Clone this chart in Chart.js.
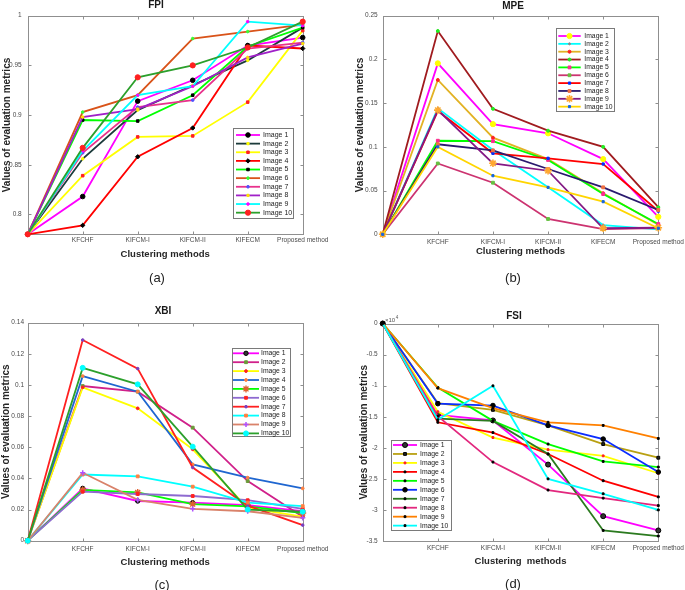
<!DOCTYPE html>
<html>
<head>
<meta charset="utf-8">
<script src="https://cdn.jsdelivr.net/npm/chart.js@4.4.1/dist/chart.umd.min.js"></script>
<style>
html,body{margin:0;padding:0;background:#fff;}
body{position:relative;width:685px;height:590px;overflow:hidden;font-family:'Liberation Sans',Arial,sans-serif;}
canvas{position:absolute;}
.lab{position:absolute;font-size:13px;color:#222;transform:translate(-50%,-50%);white-space:nowrap;}
</style>
</head>
<body>
<canvas id="cA" width="340" height="295" style="left:0px;top:0px"></canvas>
<canvas id="cB" width="350" height="295" style="left:340px;top:0px"></canvas>
<canvas id="cC" width="340" height="290" style="left:0px;top:300px"></canvas>
<canvas id="cD" width="350" height="290" style="left:340px;top:300px"></canvas>
<div class="lab" style="left:157px;top:277px">(a)</div>
<div class="lab" style="left:513px;top:277px">(b)</div>
<div class="lab" style="left:162px;top:584px">(c)</div>
<div class="lab" style="left:513px;top:583px">(d)</div>
<script>
// ---------------- data ----------------
const categories = ['', 'KFCHF', 'KIFCM-I', 'KIFCM-II', 'KIFECM', 'Proposed method'];
const imageNames = ['Image 1','Image 2','Image 3','Image 4','Image 5','Image 6','Image 7','Image 8','Image 9','Image 10'];

const fpiTicks = [0.8, 0.85, 0.9, 0.95, 1];
const mpeTicks = [0, 0.05, 0.1, 0.15, 0.2, 0.25];
const xbiTicks = [0, 0.02, 0.04, 0.06, 0.08, 0.1, 0.12, 0.14];
const fsiTicks = [0, -0.5, -1, -1.5, -2, -2.5, -3, -3.5];

// FPI
const fpiImg1  = [0.78, 0.818, 0.914, 0.935, 0.970, 0.978];
const fpiImg2  = [0.78, 0.856, 0.905, 0.930, 0.955, 0.988];
const fpiImg3  = [0.78, 0.839, 0.878, 0.879, 0.913, 0.985];
const fpiImg4  = [0.78, 0.789, 0.858, 0.887, 0.970, 0.967];
const fpiImg5  = [0.78, 0.895, 0.894, 0.920, 0.969, 0.988];
const fpiImg6  = [0.78, 0.903, 0.920, 0.977, 0.984, 0.991];
const fpiImg7  = [0.78, 0.862, 0.908, 0.915, 0.967, 0.973];
const fpiImg8  = [0.78, 0.898, 0.906, 0.929, 0.958, 0.972];
const fpiImg9  = [0.78, 0.864, 0.920, 0.929, 0.994, 0.990];
const fpiImg10 = [0.78, 0.867, 0.938, 0.950, 0.968, 0.994];

// MPE
const mpeImg1  = [0, 0.1955, 0.126, 0.1155, 0.086, 0.020];
const mpeImg2  = [0, 0.144, 0.0964, 0.0537, 0.0106, 0.0057];
const mpeImg3  = [0, 0.1765, 0.1105, 0.086, 0.047, 0.011];
const mpeImg4  = [0, 0.2325, 0.1435, 0.1185, 0.100, 0.031];
const mpeImg5  = [0, 0.107, 0.1065, 0.085, 0.046, 0.0118];
const mpeImg6  = [0, 0.081, 0.059, 0.0175, 0.006, 0.007];
const mpeImg7  = [0, 0.141, 0.0926, 0.0869, 0.0804, 0.0266];
const mpeImg8  = [0, 0.103, 0.0960, 0.0747, 0.0537, 0.0278];
const mpeImg9  = [0, 0.142, 0.0812, 0.0727, 0.0069, 0.0075];
const mpeImg10 = [0, 0.100, 0.067, 0.0537, 0.0373, 0.0069];

// XBI
const xbiImg1  = [0, 0.0336, 0.0255, 0.0244, 0.0229, 0.0190];
const xbiImg2  = [0, 0.0993, 0.0957, 0.0726, 0.0383, 0.0154];
const xbiImg3  = [0, 0.0985, 0.0850, 0.0587, 0.0210, 0.0154];
const xbiImg4  = [0, 0.1057, 0.0957, 0.0490, 0.0405, 0.0336];
const xbiImg5  = [0, 0.0326, 0.0310, 0.0235, 0.0220, 0.0178];
const xbiImg6  = [0, 0.0315, 0.0300, 0.0287, 0.0260, 0.0205];
const xbiImg7  = [0, 0.1289, 0.1105, 0.0470, 0.0225, 0.0100];
const xbiImg8  = [0, 0.0425, 0.0413, 0.0347, 0.0245, 0.0222];
const xbiImg9  = [0, 0.0436, 0.0262, 0.0205, 0.0189, 0.0147];
const xbiImg10 = [0, 0.1110, 0.1004, 0.0604, 0.0200, 0.0186];

// FSI (x 10^4)
const fsiImg1  = [0, -1.47, -1.56, -2.27, -3.10, -3.33];
const fsiImg2  = [0, -1.28, -1.39, -1.64, -1.94, -2.16];
const fsiImg3  = [0, -1.42, -1.835, -2.03, -2.13, -2.41];
const fsiImg4  = [0, -1.59, -1.755, -2.10, -2.53, -2.79];
const fsiImg5  = [0, -1.03, -1.567, -1.94, -2.22, -2.31];
const fsiImg6  = [0, -1.29, -1.32, -1.64, -1.86, -2.39];
const fsiImg7  = [0, -1.53, -1.567, -2.10, -3.33, -3.42];
const fsiImg8  = [0, -1.49, -2.23, -2.68, -2.81, -2.93];
const fsiImg9  = [0, -1.04, -1.36, -1.59, -1.64, -1.85];
const fsiImg10 = [0, -1.55, -1.003, -2.50, -2.74, -3.00];

// ---------------- styles ----------------
const fpiStyles = [
 {c:'#ff00ff', ps:'circle', r:2.3, f:'#000', b:'#000'},
 {c:'#1c3b3b', ps:'circle', r:1.3, f:'#ffff00', b:'#ffff00'},
 {c:'#ffff00', ps:'rect', r:1.8, f:'#ff2020', b:'#ff2020'},
 {c:'#ff0000', ps:'rectRot', r:2.2, f:'#000', b:'#000'},
 {c:'#00ff00', ps:'rect', r:1.8, f:'#000', b:'#000'},
 {c:'#d95319', ps:'circle', r:1.3, f:'#33ff33', b:'#33ff33'},
 {c:'#e8328c', ps:'circle', r:1.3, f:'#5050ff', b:'#5050ff'},
 {c:'#a020c8', ps:'circle', r:1.3, f:'#ffe000', b:'#ffe000'},
 {c:'#00ffff', ps:'circle', r:1.3, f:'#ff00ff', b:'#ff00ff'},
 {c:'#2ca02c', ps:'circle', r:2.6, f:'#ff2020', b:'#ff2020'}
];
const mpeStyles = [
 {c:'#ff00ff', ps:'circle', r:2.6, f:'#ffff00', b:'#ffff00'},
 {c:'#00ffff', ps:'circle', r:1, f:'#888', b:'#888'},
 {c:'#e2b224', ps:'circle', r:1.5, f:'#ff2020', b:'#ff2020'},
 {c:'#a01b1f', ps:'circle', r:1.5, f:'#22ee22', b:'#22ee22'},
 {c:'#00ff00', ps:'rect', r:2, f:'#ff2a90', b:'#ff2a90'},
 {c:'#cc3370', ps:'rect', r:2, f:'#66c040', b:'#66c040'},
 {c:'#ff0000', ps:'rect', r:1.6, f:'#0030ff', b:'#0030ff'},
 {c:'#2a1a6e', ps:'rect', r:2, f:'#f07040', b:'#f07040'},
 {c:'#841a84', ps:'star', r:3.8, f:'#ffa830', b:'#ffa830', bw:1.6},
 {c:'#ffd500', ps:'rect', r:1.5, f:'#1565e0', b:'#1565e0'}
];
const xbiStyles = [
 {c:'#ff00ff', ps:'circle', r:2.2, f:'#333', b:'#000'},
 {c:'#d0208a', ps:'rect', r:2, f:'#6b9a3a', b:'#6b9a3a'},
 {c:'#ffff00', ps:'circle', r:1.4, f:'#ff2020', b:'#ff2020'},
 {c:'#1f66d0', ps:'circle', r:1.4, f:'#ff8040', b:'#ff8040'},
 {c:'#00ff00', ps:'star', r:3.5, f:'#e06030', b:'#e06030', bw:1.4},
 {c:'#8e6ad0', ps:'rect', r:2, f:'#ff2020', b:'#ff2020'},
 {c:'#ff2020', ps:'circle', r:1.3, f:'#7a40c0', b:'#7a40c0'},
 {c:'#00ffff', ps:'rect', r:2, f:'#ff8040', b:'#ff8040'},
 {c:'#d9826a', ps:'cross', r:2.6, f:'#b050ff', b:'#b050ff', bw:1.5},
 {c:'#2ca02c', ps:'circle', r:2.5, f:'#00ffff', b:'#00ffff'}
];
const fsiStyles = [
 {c:'#ff00ff', ps:'circle', r:2.5, f:'#333', b:'#000'},
 {c:'#b9a012', ps:'rect', r:2, f:'#222', b:'#000'},
 {c:'#ffff00', ps:'rect', r:1.3, f:'#ff2020', b:'#ff2020'},
 {c:'#ff0000', ps:'rect', r:1.3, f:'#000', b:'#000'},
 {c:'#00ff00', ps:'rect', r:1.3, f:'#000', b:'#000'},
 {c:'#0a2cff', ps:'circle', r:2.3, f:'#000', b:'#000'},
 {c:'#2b7a1f', ps:'rect', r:1.3, f:'#000', b:'#000'},
 {c:'#e2287e', ps:'rect', r:1.3, f:'#000', b:'#000'},
 {c:'#ff8000', ps:'rect', r:1.3, f:'#000', b:'#000'},
 {c:'#00ffff', ps:'rect', r:1.3, f:'#000', b:'#000'}
];

const FONT = "'Liberation Sans', Arial, sans-serif";
Chart.defaults.font.family = FONT;

// ---------------- plugins ----------------
const axesBox = {
  id: 'axesBox',
  beforeDatasetsDraw(chart) {
    const {ctx, chartArea: a, scales} = chart;
    const x = scales.x, y = scales.y;
    const L = Math.round(a.left) + 0.5, R = Math.round(a.right) + 0.5;
    const T = Math.round(a.top) + 0.5, B = Math.round(a.bottom) + 0.5;
    ctx.save();
    ctx.strokeStyle = '#8f8f8f';
    ctx.lineWidth = 1;
    ctx.strokeRect(L, T, R - L, B - T);
    const t = 3;
    ctx.beginPath();
    x.ticks.forEach((tk, i) => {
      const px = Math.round(x.getPixelForTick(i)) + 0.5;
      ctx.moveTo(px, B); ctx.lineTo(px, B - t);
      ctx.moveTo(px, T); ctx.lineTo(px, T + t);
    });
    y.ticks.forEach((tk, i) => {
      const py = Math.round(y.getPixelForTick(i)) + 0.5;
      ctx.moveTo(L, py); ctx.lineTo(L + t, py);
      ctx.moveTo(R, py); ctx.lineTo(R - t, py);
    });
    ctx.stroke();
    ctx.restore();
  }
};

const boxLegend = {
  id: 'boxLegend',
  afterDatasetsDraw(chart, args, o) {
    if (!o || !o.w) return;
    const ctx = chart.ctx;
    ctx.save();
    ctx.fillStyle = '#ffffff';
    ctx.fillRect(o.x, o.y, o.w, o.h);
    ctx.strokeStyle = '#7a7a7a';
    ctx.lineWidth = 1;
    ctx.strokeRect(Math.round(o.x) + 0.5, Math.round(o.y) + 0.5, Math.round(o.w), Math.round(o.h));
    chart.data.datasets.forEach((ds, i) => {
      const cy = o.y0 + i * o.dy;
      ctx.strokeStyle = ds.borderColor;
      ctx.lineWidth = ds.borderWidth;
      ctx.beginPath();
      ctx.moveTo(o.lx1, cy); ctx.lineTo(o.lx2, cy);
      ctx.stroke();
      ctx.fillStyle = ds.pointBackgroundColor;
      ctx.strokeStyle = ds.pointBorderColor;
      ctx.lineWidth = ds.pointBorderWidth;
      Chart.helpers.drawPoint(ctx, {pointStyle: ds.pointStyle, radius: ds.pointRadius, borderWidth: ds.pointBorderWidth, rotation: 0}, (o.lx1 + o.lx2) / 2, cy);
      ctx.fillStyle = '#222';
      ctx.font = o.fs + 'px ' + FONT;
      ctx.textAlign = 'left';
      ctx.textBaseline = 'middle';
      ctx.fillText(ds.label, o.tx, cy);
    });
    ctx.restore();
  }
};

const panelTitle = {
  id: 'panelTitle',
  afterDraw(chart, args, o) {
    if (!o || !o.text) return;
    const ctx = chart.ctx;
    ctx.save();
    ctx.fillStyle = '#1a1a1a';
    ctx.textAlign = 'center';
    ctx.textBaseline = 'middle';
    ctx.font = 'bold 10px ' + FONT;
    ctx.fillText(o.text, o.x, o.y);
    ctx.restore();
  }
};

const notePlugin = {
  id: 'note',
  afterDraw(chart, args, o) {
    if (!o || !o.text) return;
    const ctx = chart.ctx;
    ctx.save();
    ctx.fillStyle = '#555';
    ctx.textAlign = 'left';
    ctx.textBaseline = 'middle';
    ctx.font = '6px ' + FONT;
    ctx.fillText(o.text, o.x, o.y);
    const w = ctx.measureText(o.text).width;
    ctx.font = '4.5px ' + FONT;
    ctx.fillText(o.sup, o.x + w + 0.5, o.y - 2);
    ctx.restore();
  }
};

function buildDatasets(series, styles) {
  return series.map((vals, i) => ({
    label: imageNames[i],
    data: vals,
    borderColor: styles[i].c,
    backgroundColor: styles[i].c,
    borderWidth: 1.8,
    pointStyle: styles[i].ps,
    pointRadius: styles[i].r,
    pointBackgroundColor: styles[i].f,
    pointBorderColor: styles[i].b,
    pointBorderWidth: styles[i].bw || 1,
    tension: 0,
    fill: false,
    clip: false,
    order: -i
  }));
}

function makePanel(id, p) {
  new Chart(document.getElementById(id), {
    type: 'line',
    data: { labels: categories, datasets: buildDatasets(p.series, p.styles) },
    options: {
      responsive: false,
      animation: false,
      events: [],
      layout: { padding: { left: 0, right: p.pr, top: p.pt, bottom: p.pb } },
      plugins: {
        legend: { display: false },
        tooltip: { enabled: false },
        title: { display: false },
        panelTitle: p.titleOpt,
        boxLegend: p.legend,
        note: p.note || { text: '' }
      },
      scales: {
        x: {
          type: 'category', offset: false,
          grid: { display: false, drawTicks: false },
          border: { display: false },
          ticks: { font: { size: 6.5 }, color: '#4a4a4a', padding: p.xtp, maxRotation: 0, minRotation: 0, autoSkip: false },
          title: { display: true, text: p.xTitle, font: { size: 9.5, weight: 'bold' }, color: '#262626', padding: { top: 0, bottom: 0 } },
          afterFit: s => { s.height = p.xh; }
        },
        y: {
          type: 'linear', min: p.ymin, max: p.ymax,
          grid: { display: false, drawTicks: false },
          border: { display: false },
          afterBuildTicks: s => { s.ticks = p.ticks.map(v => ({ value: v })); },
          ticks: { font: { size: 6.5 }, color: '#4a4a4a', padding: p.ytp, callback: v => String(Math.round(v * 1000) / 1000) },
          title: { display: true, text: 'Values of evaluation metrics', font: { size: 10, weight: 'bold' }, color: '#262626', padding: { top: p.ytitlePad, bottom: 0 } },
          afterFit: s => { s.width = p.yw; }
        }
      }
    },
    plugins: [axesBox, boxLegend, panelTitle, notePlugin]
  });
}

makePanel('cA', {
  titleOpt: { text: 'FPI', x: 156, y: 5.5 }, xTitle: 'Clustering methods',
  series: [fpiImg1, fpiImg2, fpiImg3, fpiImg4, fpiImg5, fpiImg6, fpiImg7, fpiImg8, fpiImg9, fpiImg10],
  styles: fpiStyles, ticks: fpiTicks, ymin: 0.78, ymax: 1,
  pt: 15.7, pr: 37.3, pb: 35.3, yw: 27.7, ytitlePad: 1.5, ytp: 6,
  xtp: 1.8, xh: 25.4,
  legend: { x: 233, y: 128, w: 60, h: 90, y0: 135, dy: 8.63, lx1: 236, lx2: 260, tx: 263, fs: 7 }
});

makePanel('cB', {
  titleOpt: { text: 'MPE', x: 173, y: 6.5 }, xTitle: 'Clustering methods',
  series: [mpeImg1, mpeImg2, mpeImg3, mpeImg4, mpeImg5, mpeImg6, mpeImg7, mpeImg8, mpeImg9, mpeImg10],
  styles: mpeStyles, ticks: mpeTicks, ymin: 0, ymax: 0.25,
  pt: 15.7, pr: 31.7, pb: 37.6, yw: 42.7, ytitlePad: 14.7, ytp: 5,
  xtp: 4.5, xh: 23.1,
  legend: { x: 216, y: 28.3, w: 58, h: 82.7, y0: 36, dy: 7.85, lx1: 218.3, lx2: 240.7, tx: 244.3, fs: 6.8 }
});

makePanel('cC', {
  titleOpt: { text: 'XBI', x: 163, y: 11.7 }, xTitle: 'Clustering methods',
  series: [xbiImg1, xbiImg2, xbiImg3, xbiImg4, xbiImg5, xbiImg6, xbiImg7, xbiImg8, xbiImg9, xbiImg10],
  styles: xbiStyles, ticks: xbiTicks, ymin: 0, ymax: 0.14,
  pt: 22.7, pr: 37.3, pb: 22.3, yw: 27.7, ytitlePad: -0.2, ytp: 3.7,
  xtp: 4.7, xh: 27.0,
  legend: { x: 231.7, y: 48.3, w: 58.3, h: 88.4, y0: 53.3, dy: 8.9, lx1: 233, lx2: 259, tx: 261, fs: 6.8 }
});

makePanel('cD', {
  titleOpt: { text: 'FSI', x: 174, y: 16 }, xTitle: 'Clustering  methods',
  series: [fsiImg1, fsiImg2, fsiImg3, fsiImg4, fsiImg5, fsiImg6, fsiImg7, fsiImg8, fsiImg9, fsiImg10],
  styles: fsiStyles, ticks: fsiTicks, ymin: -3.5, ymax: 0,
  pt: 23.5, pr: 31.7, pb: 23.3, yw: 42.7, ytitlePad: 18, ytp: 5,
  xtp: 3.1, xh: 25.7,
  legend: { x: 50.7, y: 140, w: 60.3, h: 90, y0: 145, dy: 8.96, lx1: 53, lx2: 77, tx: 80, fs: 6.8 },
  note: { text: '\u00d710', sup: '4', x: 45, y: 20 }
});
</script>
</body>
</html>
